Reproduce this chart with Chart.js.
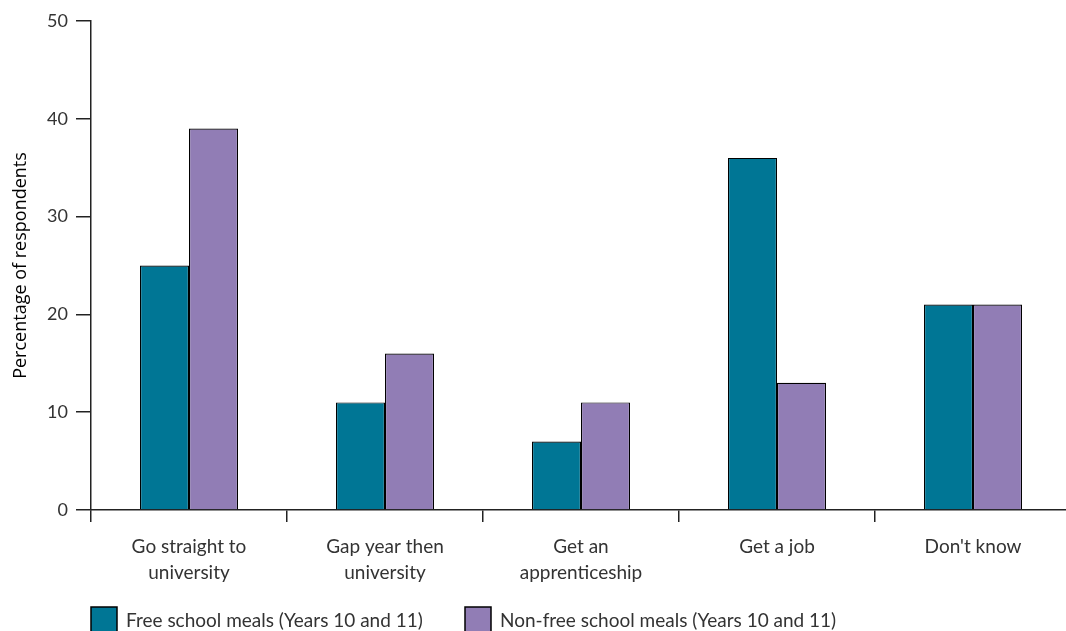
<!DOCTYPE html>
<html><head><meta charset="utf-8">
<script src="https://cdn.jsdelivr.net/npm/chart.js@4"></script>
<style>html,body{margin:0;padding:0;background:#fff;overflow:hidden}#wrap{width:1066px;height:631px;overflow:hidden}</style>
</head><body><div id="wrap"><canvas id="c" width="1071" height="631"></canvas></div>
<script>
const categories = [["Go straight to","university"],["Gap year then","university"],["Get an","apprenticeship"],["Get a job"],["Don't know"]];
const seriesNames = ["Free school meals (Years 10 and 11)","Non-free school meals (Years 10 and 11)"];
const freeMeals = [25, 11, 7, 36, 21];
const nonFreeMeals = [39, 16, 11, 13, 21];
const yAxisTitle = "Percentage of respondents";
const yMin = 0, yMax = 50, yStep = 10;

const colors = ["#007695", "#917db5"];
const textColor = "#333";
const axisColor = "#222";
const FONT = "Lato, 'Open Sans', sans-serif";

const legendPlugin = {
  id: 'customLegend',
  afterDraw(chart) {
    const ctx = chart.ctx;
    const items = [{x: 91, tx: 126}, {x: 465, tx: 500}];
    ctx.save();
    chart.data.datasets.forEach((ds, i) => {
      const it = items[i];
      ctx.fillStyle = ds.backgroundColor;
      ctx.fillRect(it.x, 607, 26, 26);
      ctx.strokeStyle = '#000';
      ctx.lineWidth = 1.5;
      ctx.strokeRect(it.x, 607, 26, 26);
      ctx.fillStyle = textColor;
      ctx.font = "19px " + FONT;
      ctx.textBaseline = 'middle';
      ctx.textAlign = 'left';
      ctx.fillText(ds.label, it.tx, 621);
    });
    ctx.restore();
  }
};

new Chart(document.getElementById('c'), {
  type: 'bar',
  data: {
    labels: categories,
    datasets: [
      {label: seriesNames[0], data: freeMeals, backgroundColor: colors[0], borderColor: '#000', borderWidth: 1.2},
      {label: seriesNames[1], data: nonFreeMeals, backgroundColor: colors[1], borderColor: '#000', borderWidth: 1.2}
    ]
  },
  options: {
    responsive: false,
    animation: false,
    layout: {padding: {top: 21, right: 0, bottom: 41, left: 0}},
    datasets: {bar: {categoryPercentage: 0.5, barPercentage: 1.0}},
    plugins: {legend: {display: false}, tooltip: {enabled: false}},
    scales: {
      x: {
        afterFit(s) { s.height = 80; },
        grid: {offset: true, drawOnChartArea: false, drawTicks: true, tickLength: 12, color: axisColor, lineWidth: 1.5},
        border: {color: axisColor, width: 1.5},
        ticks: {color: textColor, font: {family: FONT, size: 19, lineHeight: 1.37}, padding: 12, maxRotation: 0, autoSkip: false}
      },
      y: {
        min: yMin, max: yMax,
        afterFit(s) { s.width = 91; },
        grid: {drawOnChartArea: false, drawTicks: true, tickLength: 15, color: axisColor, lineWidth: 1.5},
        border: {color: axisColor, width: 1.5},
        ticks: {stepSize: yStep, color: textColor, font: {family: FONT, size: 18}, padding: 8},
        title: {display: true, text: yAxisTitle, color: '#000', font: {family: "'Open Sans', sans-serif", size: 18, weight: 'normal'}, padding: {top: 10, bottom: 0}}
      }
    }
  },
  plugins: [legendPlugin]
});
</script>
</body></html>
